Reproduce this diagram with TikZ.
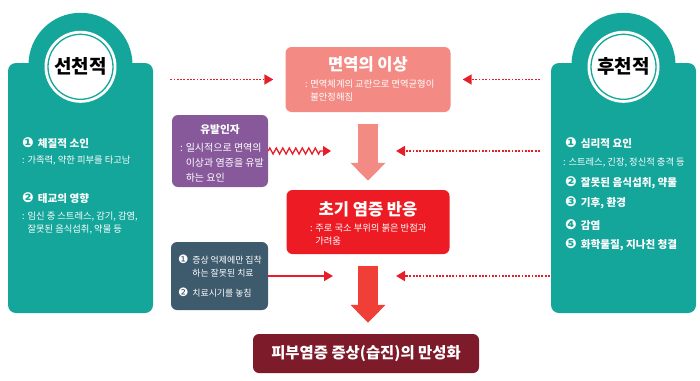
\documentclass[tikz,border=0pt]{standalone}
\usepackage{fontspec}
\setmainfont{Noto Sans CJK KR}
\newfontfamily\dingfont{DejaVu Sans}[Scale=1.3]
\usetikzlibrary{arrows.meta,positioning,calc,decorations.pathmorphing}
\definecolor{panelteal}{HTML}{14A69B}
\definecolor{salmon}{HTML}{F38B84}
\definecolor{plum}{HTML}{87599B}
\definecolor{alarm}{HTML}{ED1C24}
\definecolor{slate}{HTML}{3E5A6D}
\definecolor{maroon}{HTML}{7D1B2B}
\definecolor{dotred}{HTML}{E61E28}
\definecolor{bigred}{HTML}{EF3F36}
\newcommand\circnum[1]{{\dingfont #1}\hspace{4pt}}
\tikzset{panel/.style={fill=panelteal,rounded corners=8pt,minimum width=145pt,
  minimum height=250pt,inner sep=0pt},
  badge/.style={circle,fill=white,minimum size=72pt,inner sep=0pt,
  font=\bfseries\fontsize{19}{19}\selectfont,
  path picture={\draw[panelteal,line width=1.3pt] (path picture bounding box.center) circle[radius=32.5pt];}},
  item/.style={anchor=west,text=white,inner sep=0pt,font=\bfseries\fontsize{10.6}{12}\selectfont},
  note/.style={anchor=west,text=white,inner sep=0pt,align=left,font=\fontsize{9.3}{12.5}\selectfont},
  card/.style={rounded corners=6pt,inner sep=0pt},
  cardtitle/.style={text=white,inner sep=0pt,font=\bfseries\fontsize{16.5}{16}\selectfont},
  dotflow/.style={draw=dotred,line width=1.8pt,dash pattern=on 1.8pt off 1.5pt,
  -{Triangle[length=9pt,width=10pt]}},
  redflow/.style={draw=dotred,line width=1.6pt,-{Triangle[length=9pt,width=10pt]}},
  zigflow/.style={draw=dotred,line width=1.3pt,-{Triangle[length=8pt,width=10pt]},
  decorate,decoration={zigzag,amplitude=3pt,segment length=6.5pt,post length=9pt}},
  bigflow/.style={draw=#1,line width=20pt,-{Triangle[length=18pt,width=34pt]}}}
\begin{document}
\begin{tikzpicture}[x=1pt,y=-1pt]
\useasboundingbox (0,0) rectangle (700,380);
% side panels
\node[panel] (innate) at (80.5,188) {};
\fill[panelteal] ([yshift=-2pt]innate.north) circle[radius=52pt];
\node[badge] (innatebadge) at ([yshift=-4pt]innate.north) {선천적};
\node[panel] (acquired) at (623.5,188) {};
\fill[panelteal] ([yshift=-2pt]acquired.north) circle[radius=52pt];
\node[badge] (acquiredbadge) at ([yshift=-4pt]acquired.north) {후천적};
\node[item] (constitution) at (22,143) {\circnum{❶}체질적 소인};
\node[note] (constitutionnote) at (22,161) {: 가족력, 약한 피부를 타고남};
\node[item] (prenatal) at (22,198) {\circnum{❷}태교의 영향};
\node[note,anchor=north west] (prenatalnote) at (22,212)
  {: 임신 중 스트레스, 감기, 감염,\\\phantom{: }잘못된 음식섭취, 약물 등};
\node[item] (psych) at (565,143) {\circnum{❶}심리적 요인};
\node[note] (psychnote) at (563,163) {: 스트레스, 긴장, 정신적 충격 등};
\node[item] (diet) at (565,183) {\circnum{❷}잘못된 음식섭취, 약물};
\node[item] (climate) at (565,203) {\circnum{❸}기후, 환경};
\node[item] (infection) at (565,225) {\circnum{❹}감염};
\node[item] (chemical) at (565,245) {\circnum{❺}화학물질, 지나친 청결};
% centre column
\node[card,fill=salmon,minimum width=165pt,minimum height=65pt] (immune) at (368,79.5) {};
\node[cardtitle] (immunetitle) at ([yshift=-18pt]immune.north) {면역의 이상};
\node[note,anchor=north west] (immunenote) at ([xshift=19.5pt,yshift=-33pt]immune.north west)
  {: 면역체계의 교란으로 면역균형이\\\phantom{: }불안정해짐};
\node[card,fill=alarm,minimum width=163pt,minimum height=64pt] (early) at (368,222) {};
\node[cardtitle] (earlytitle) at ([yshift=-20pt]early.north) {초기 염증 반응};
\node[note,anchor=north west] (earlynote) at ([xshift=23.5pt,yshift=-34pt]early.north west)
  {: 주로 국소 부위의 붉은 반점과\\\phantom{: }가려움};
\node[card,fill=maroon,minimum width=226pt,minimum height=39pt,text=white,
  font=\bfseries\fontsize{15.4}{16}\selectfont] (chronic) at (366,353.5) {피부염증 증상(습진)의 만성화};
\node[card,fill=plum,minimum width=96pt,minimum height=72pt] (trigger) at (220,151) {};
\node[item,anchor=center,font=\bfseries\fontsize{10.7}{12}\selectfont] (triggertitle)
  at ([yshift=-15pt]trigger.north) {유발인자};
\node[note,anchor=north west,font=\fontsize{10}{15}\selectfont] (triggernote)
  at ([xshift=8pt,yshift=-28pt]trigger.north west)
  {: 일시적으로 면역의\\\phantom{: }이상과 염증을 유발\\\phantom{: }하는 요인};
\node[card,fill=slate,minimum width=97pt,minimum height=68pt] (treatment) at (219.5,276) {};
\node[note,anchor=north west,font=\fontsize{8.9}{12.5}\selectfont] (wrongcure)
  at ([xshift=7pt,yshift=-13pt]treatment.north west)
  {\circnum{❶}증상 억제에만 집착\\\phantom{\circnum{❶}}하는 잘못된 치료};
\node[note,font=\fontsize{8.9}{12.5}\selectfont] (latecure)
  at ([xshift=7pt,yshift=-51pt]treatment.north west) {\circnum{❷}치료시기를 놓침};
% connectors
\draw[dotflow,shorten <=17pt,shorten >=12pt] (innate.east |- immune.west) -- (immune.west);
\draw[dotflow,shorten <=11pt,shorten >=12pt] (acquired.west |- immune.east) -- (immune.east);
\draw[bigflow=salmon] ([yshift=-12pt]immune.south) -- ([yshift=9pt]early.north);
\draw[bigflow=bigred] ([yshift=-12pt]early.south) -- ([yshift=11pt]early.south |- chronic.north);
\draw[zigflow] (trigger.east) -- ($(trigger.east -| immune.south)+(-37,0)$);
\draw[dotflow,shorten <=11pt,shorten >=28pt] (acquired.west |- trigger.east) -- (trigger.east -| immune.south);
\draw[redflow,shorten >=35pt] (treatment.east) -- (treatment.east -| early.south);
\draw[dotflow,shorten <=1pt,shorten >=28pt] (acquired.west |- treatment.east) -- (treatment.east -| early.south);
\end{tikzpicture}
\end{document}
